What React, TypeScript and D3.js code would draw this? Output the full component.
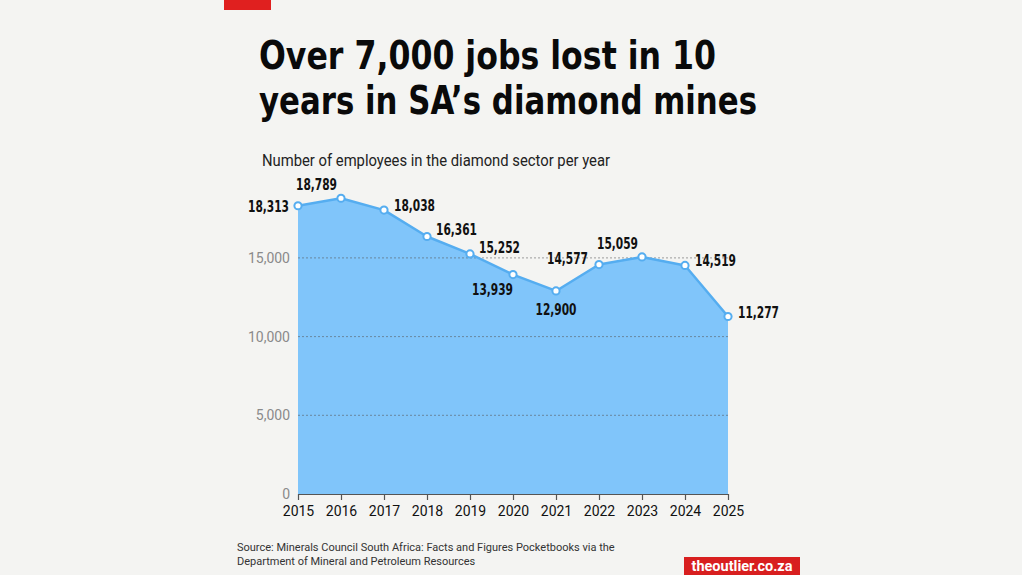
import * as d3 from "d3";
import React, { useEffect, useRef } from "react";

const WIDTH = 1022;
const HEIGHT = 575;

// data
const years = [2015, 2016, 2017, 2018, 2019, 2020, 2021, 2022, 2023, 2024, 2025];
const employees = [18313, 18789, 18038, 16361, 15252, 13939, 12900, 14577, 15059, 14519, 11277];
const yTicks = [0, 5000, 10000, 15000];
// where each value label sits relative to its point
const labelSide = ["left", "aboveLeft", "right", "rightUp", "rightUp", "belowLeft", "below", "leftUp", "aboveLeft", "right", "right"];

const TITLE = ["Over 7,000 jobs lost in 10", "years in SA\u2019s diamond mines"];
const SUBTITLE = "Number of employees in the diamond sector per year";
const SOURCE = [
    "Source: Minerals Council South Africa: Facts and Figures Pocketbooks via the",
    "Department of Mineral and Petroleum Resources",
];

const CONDENSED = "'Liberation Sans Narrow', 'DejaVu Sans Condensed', 'Roboto', sans-serif";
const BODY = "'Roboto', 'Noto Sans', sans-serif";

const fmt = d3.format(",");

type Pt = { year: number; value: number; side: string };

const App: React.FC = () => {
    const axesRef = useRef(null);
    const data: Pt[] = years.map((y, i) => ({ year: y, value: employees[i], side: labelSide[i] }));

    const xScale = d3.scaleLinear().domain([2015, 2025]).range([298, 728]);
    const yScale = d3.scaleLinear().domain([0, 20000]).range([494, 179.2]);

    useEffect(() => {
        const g = d3.select(axesRef.current);
        g.selectAll("*").remove();
        const xAxis = d3
            .axisBottom(xScale)
            .tickValues(years)
            .tickFormat((d) => String(d))
            .tickSize(6)
            .tickSizeOuter(0);
        const ax = g.append("g").attr("transform", `translate(0,${yScale(0)})`).call(xAxis);
        ax.select(".domain").attr("stroke", "#555").attr("stroke-width", 1.2);
        ax.selectAll(".tick line").attr("stroke", "#555").attr("stroke-width", 1.2);
        ax.selectAll(".tick text")
            .attr("fill", "#111")
            .attr("font-size", 14)
            .attr("font-family", BODY)
            .attr("dy", "0.95em");

        const yAxis = d3.axisLeft(yScale).tickValues(yTicks).tickFormat((d) => fmt(d as number)).tickSize(0);
        const ay = g.append("g").attr("transform", `translate(${xScale(2015) - 5},0)`).call(yAxis);
        ay.select(".domain").remove();
        ay.selectAll(".tick text")
            .attr("fill", "#8a8a8a")
            .attr("font-size", 14)
            .attr("font-family", BODY)
            .attr("dx", 0);
    }, []);

    const area = d3
        .area<Pt>()
        .x((d) => xScale(d.year))
        .y0(yScale(0))
        .y1((d) => yScale(d.value));
    const line = d3
        .line<Pt>()
        .x((d) => xScale(d.year))
        .y((d) => yScale(d.value));

    const labelAttrs = (d: Pt) => {
        const x = xScale(d.year);
        const y = yScale(d.value);
        switch (d.side) {
            case "left":
                return { x: x - 9, y: y + 6, anchor: "end" };
            case "aboveLeft":
                return { x: x - 4, y: y - 8, anchor: "end" };
            case "right":
                return { x: x + 10, y: y + 1, anchor: "start" };
            case "rightUp":
                return { x: x + 9, y: y - 1, anchor: "start" };
            case "belowLeft":
                return { x: x, y: y + 20, anchor: "end" };
            case "below":
                return { x: x, y: y + 24, anchor: "middle" };
            case "leftUp":
                return { x: x - 11, y: y - 1, anchor: "end" };
            default:
                return { x: x, y: y - 10, anchor: "middle" };
        }
    };

    return (
        <div style={{ position: "fixed", left: 0, top: 0, width: WIDTH, height: HEIGHT }}>
            <svg width={WIDTH} height={HEIGHT} style={{ display: "block" }}>
                <rect width={WIDTH} height={HEIGHT} fill="#f4f4f2" />
                <rect x={224} y={0} width={47} height={10} fill="#e0201f" />

                {TITLE.map((t, i) => (
                    <text
                        key={i}
                        x={259}
                        y={69 + i * 45}
                        fontFamily={CONDENSED}
                        fontWeight={700}
                        fontSize={38.5}
                        fill="#0a0a0a"
                        textLength={i === 0 ? 457 : 498}
                        lengthAdjust="spacingAndGlyphs"
                    >
                        {t}
                    </text>
                ))}
                <text x={262} y={166} fontFamily={BODY} fontSize={16} fill="#222" textLength={348} lengthAdjust="spacingAndGlyphs">
                    {SUBTITLE}
                </text>

                <path d={area(data) || ""} fill="#80c5fa" />

                {yTicks
                    .filter((t) => t > 0)
                    .map((t) => (
                        <line
                            key={t}
                            x1={xScale(2015)}
                            x2={xScale(2025)}
                            y1={yScale(t)}
                            y2={yScale(t)}
                            stroke="#555"
                            strokeOpacity={0.55}
                            strokeDasharray="2,2"
                            strokeWidth={1}
                        />
                    ))}

                <path d={line(data) || ""} fill="none" stroke="#55adf0" strokeWidth={2.5} strokeLinejoin="round" />
                {data.map((d) => (
                    <circle
                        key={d.year}
                        cx={xScale(d.year)}
                        cy={yScale(d.value)}
                        r={3.6}
                        fill="#fff"
                        stroke="#55adf0"
                        strokeWidth={2}
                    />
                ))}
                {data.map((d) => {
                    const a = labelAttrs(d);
                    return (
                        <text
                            key={"l" + d.year}
                            x={a.x}
                            y={a.y}
                            textAnchor={a.anchor}
                            fontFamily={CONDENSED}
                            fontWeight={700}
                            fontSize={16}
                            fill="#111"
                            textLength={41}
                            lengthAdjust="spacingAndGlyphs"
                        >
                            {fmt(d.value)}
                        </text>
                    );
                })}

                <g ref={axesRef} />

                {SOURCE.map((s, i) => (
                    <text key={i} x={237} y={551 + i * 14} fontFamily={BODY} fontSize={11} fill="#333">
                        {s}
                    </text>
                ))}
                <rect x={684} y={557} width={116} height={18} fill="#d81f1f" />
                <text x={742} y={571} textAnchor="middle" fontFamily={BODY} fontWeight={700} fontSize={14} fill="#fff" textLength={101} lengthAdjust="spacingAndGlyphs">
                    theoutlier.co.za
                </text>
            </svg>
        </div>
    );
};

export default App;
